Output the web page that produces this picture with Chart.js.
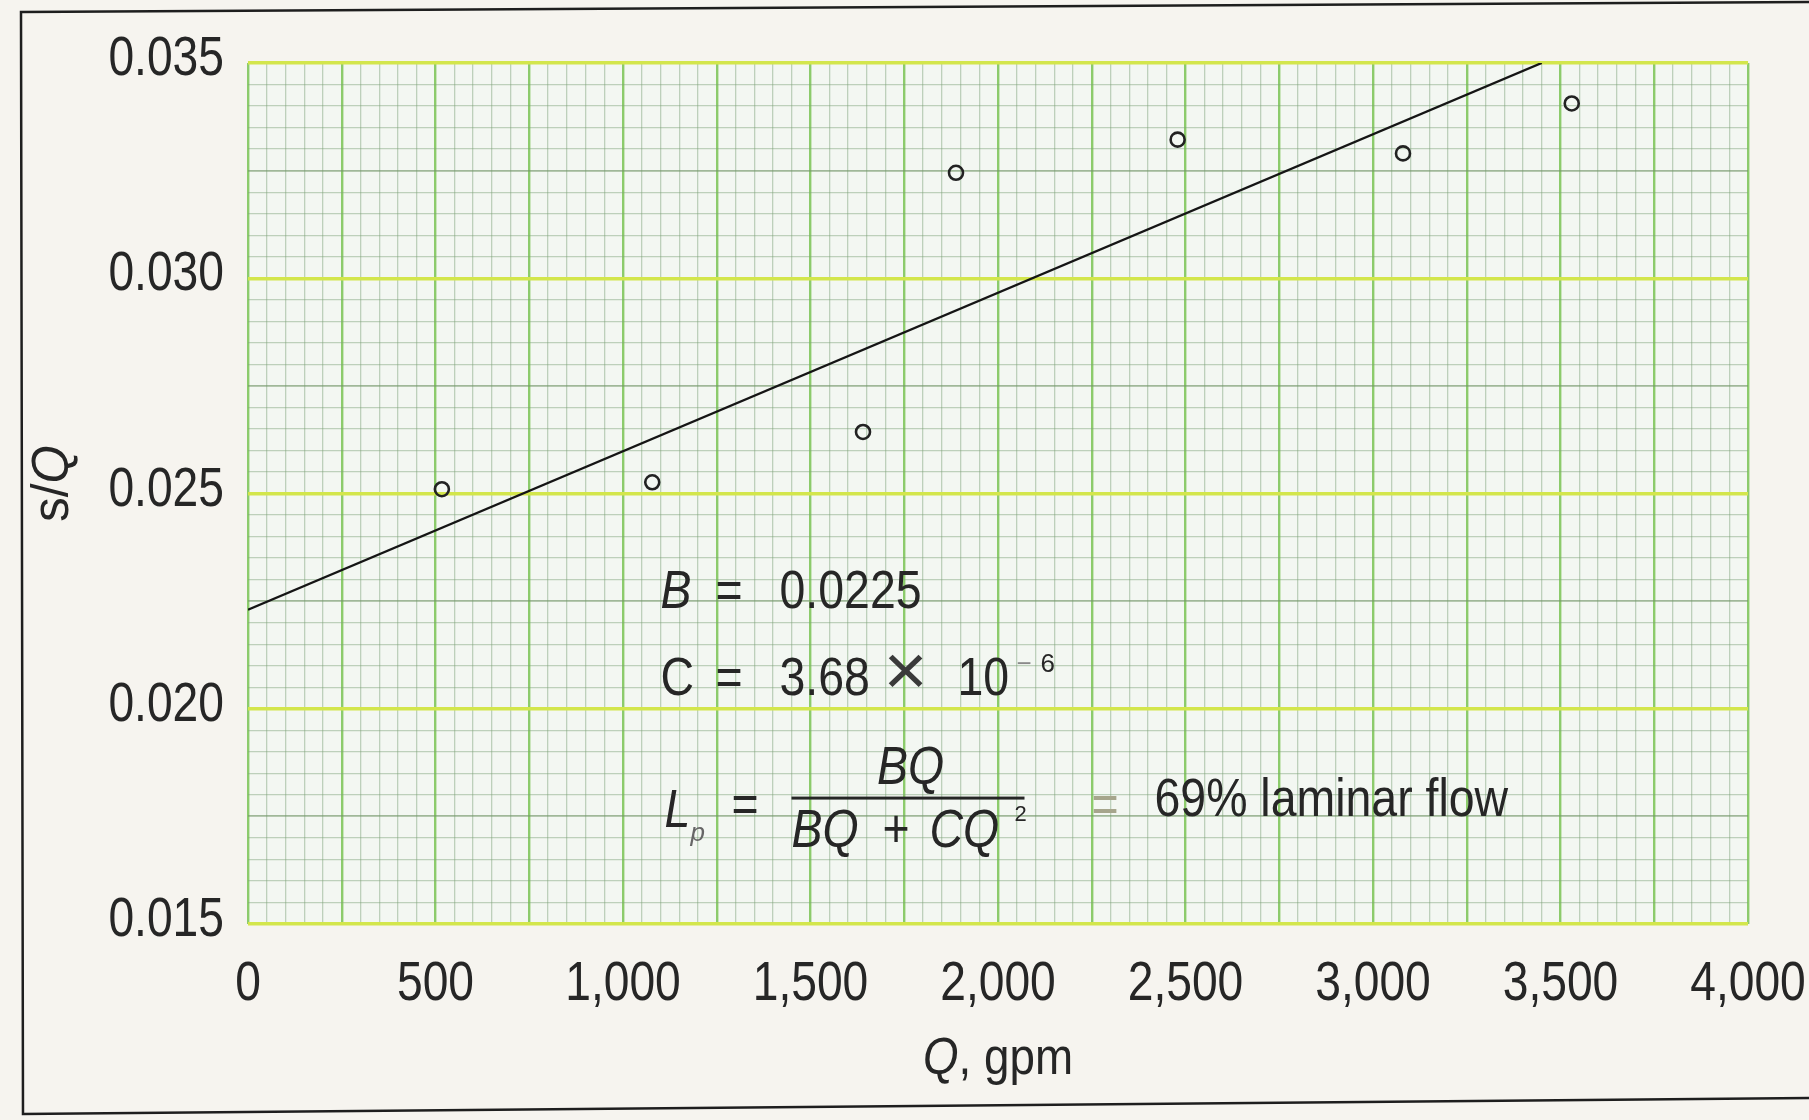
<!DOCTYPE html>
<html>
<head>
<meta charset="utf-8">
<title>s/Q vs Q</title>
<script src="https://cdn.jsdelivr.net/npm/chart.js@4.4.1/dist/chart.umd.min.js"></script>
<style>
    html, body { margin: 0; padding: 0; background: #f6f4ef; }
    #wrap { width: 1809px; height: 1120px; position: relative; }
</style>
</head>
<body>
<div id="wrap"><canvas id="stepChart" width="1809" height="1120"></canvas></div>
<script>
// step-drawdown data
const qValues = [517, 1078, 1640, 1888, 2479, 3080, 3530];
const sqValues = [0.0251, 0.02526, 0.02643, 0.03245, 0.03322, 0.0329, 0.03406];

// fitted straight line s/Q = B + CQ (end points as drawn)
const fitQ = [0, 3450];
const fitSQ = [0.0223, 0.0350];

// axis ranges / labelled ticks
const xTicks = [0, 500, 1000, 1500, 2000, 2500, 3000, 3500, 4000];
const yTicks = [0.015, 0.020, 0.025, 0.030, 0.035];

const FONT = "'Liberation Sans', Arial, Helvetica, sans-serif";
const INK = "#262626";

// text helper, sx squeezes the glyphs to mimic the condensed face of the print
function put(ctx, txt, x, y, size, italic, sx, align, color) {
    ctx.save();
    ctx.font = (italic ? "italic " : "") + size + "px " + FONT;
    ctx.fillStyle = color || INK;
    ctx.textAlign = align || "left";
    ctx.textBaseline = "alphabetic";
    ctx.translate(x, y);
    ctx.scale(sx, 1);
    ctx.fillText(txt, 0, 0);
    ctx.restore();
}
function textW(ctx, txt, size, italic, sx) {
    ctx.save();
    ctx.font = (italic ? "italic " : "") + size + "px " + FONT;
    const w = ctx.measureText(txt).width * sx;
    ctx.restore();
    return w;
}

// graph-paper background, frame, tick labels and annotations
const paperPlugin = {
    id: "paper",
    beforeDraw(chart) {
        const { ctx, chartArea: a } = chart;
        ctx.save();
        ctx.fillStyle = "#f3f7f2";
        ctx.fillRect(a.left, a.top, a.right - a.left, a.bottom - a.top);
        ctx.restore();
    },
    afterDraw(chart) {
        const { ctx, chartArea: a } = chart;
        const xs = chart.scales.x, ys = chart.scales.y;
        ctx.save();

        // page frame
        ctx.strokeStyle = "#1e1e1e";
        ctx.lineWidth = 2.5;
        ctx.beginPath();
        ctx.moveTo(1809, 2);
        ctx.lineTo(21, 12);
        ctx.lineTo(23, 1114);
        ctx.lineTo(1809, 1098);
        ctx.stroke();
        ctx.restore();

        // tick labels
        xTicks.forEach(v => {
            put(ctx, v.toLocaleString("en-US"), xs.getPixelForValue(v), a.bottom + 76, 55, false, 0.84, "center");
        });
        yTicks.forEach(v => {
            put(ctx, v.toFixed(3), a.left - 24, ys.getPixelForValue(v) + 12, 55, false, 0.84, "right");
        });

        // annotation block, anchored in data space
        const ax = xs.getPixelForValue(1100);
        const ay = ys.getPixelForValue(0.02235);
        const S = 54, K = 0.86;
        put(ctx, "B", ax, ay, S, true, K);
        put(ctx, "=", ax + 55, ay, S, false, K);
        put(ctx, "0.0225", ax + 119, ay, S, false, K);

        put(ctx, "C", ax, ay + 87, S, false, K);
        put(ctx, "=", ax + 55, ay + 87, S, false, K);
        put(ctx, "3.68", ax + 119, ay + 87, S, false, K);
        put(ctx, "\u00d7", ax + 245, ay + 87, 72, false, 1.05, "center", "#3a3a3a");
        put(ctx, "10", ax + 297, ay + 87, S, false, K);
        put(ctx, "\u2212", ax + 356, ay + 64, 26, false, 1, "left", "#8a8a8a");
        put(ctx, "6", ax + 380, ay + 64, 26, false, 1);

        put(ctx, "L", ax + 4, ay + 219, S, true, K);
        put(ctx, "p", ax + 30, ay + 233, 26, true, 1, "left", "#666");
        put(ctx, "=", ax + 71, ay + 214, S, false, K);
        put(ctx, "BQ", ax + 250, ay + 176, S, true, K, "center");
        ctx.fillStyle = INK;
        ctx.fillRect(ax + 131, ay + 189, 233, 3);
        put(ctx, "BQ", ax + 131, ay + 239, S, true, K);
        put(ctx, "+", ax + 222, ay + 239, S, false, K);
        put(ctx, "CQ", ax + 269, ay + 239, S, true, K);
        put(ctx, "2", ax + 354, ay + 213, 22, false, 1);
        put(ctx, "=", ax + 431, ay + 214, S, false, K, "left", "#a6a58c");
        put(ctx, "69% laminar flow", ax + 494, ay + 208, S, false, K);

        // axis titles
        const wq = textW(ctx, "Q", 52, true, 0.88);
        const wr = textW(ctx, ", gpm", 52, false, 0.88);
        const tx = (a.left + a.right) / 2 - (wq + wr) / 2;
        put(ctx, "Q", tx, a.bottom + 150, 52, true, 0.88);
        put(ctx, ", gpm", tx + wq, a.bottom + 150, 52, false, 0.88);

        ctx.save();
        ctx.translate(68, (a.top + a.bottom) / 2 - 10);
        ctx.rotate(-Math.PI / 2);
        const ws = textW(ctx, "s/", 52, false, 0.95);
        const wq2 = textW(ctx, "Q", 52, true, 0.95);
        put(ctx, "s/", -(ws + wq2) / 2, 0, 52, false, 0.95);
        put(ctx, "Q", -(ws + wq2) / 2 + ws, 0, 52, true, 0.95);
        ctx.restore();
    }
};

// grid colours, graph paper style
function xGridColor(c) {
    const v = Math.round(c.tick.value);
    if (v % 250 === 0) return "#8ccb6c";
    return "rgba(125,160,120,0.45)";
}
function xGridWidth(c) {
    const v = Math.round(c.tick.value);
    return v % 250 === 0 ? 2.4 : 1.3;
}
function yGridColor(c) {
    const k = Math.round(c.tick.value / 0.0005);
    if (k % 10 === 0) return "#d3e64c";
    if (k % 5 === 0) return "rgba(115,150,105,0.65)";
    return "rgba(125,160,120,0.45)";
}
function yGridWidth(c) {
    const k = Math.round(c.tick.value / 0.0005);
    if (k % 10 === 0) return 3.5;
    if (k % 5 === 0) return 1.8;
    return 1.3;
}

const ctx = document.getElementById("stepChart").getContext("2d");
const chart = new Chart(ctx, {
    type: "scatter",
    data: {
        datasets: [
            {
                label: "s/Q",
                data: qValues.map((q, i) => ({ x: q, y: sqValues[i] })),
                pointStyle: "circle",
                pointRadius: 7,
                borderWidth: 2.6,
                borderColor: "#222",
                backgroundColor: "rgba(0,0,0,0)"
            },
            {
                label: "fit",
                data: fitQ.map((q, i) => ({ x: q, y: fitSQ[i] })),
                showLine: true,
                borderColor: "#151515",
                borderWidth: 2.4,
                pointRadius: 0
            }
        ]
    },
    options: {
        responsive: false,
        animation: false,
        layout: { padding: { left: 128, right: 61, top: 63, bottom: 96 } },
        plugins: { legend: { display: false }, tooltip: { enabled: false } },
        scales: {
            x: {
                type: "linear",
                min: xTicks[0],
                max: xTicks[xTicks.length - 1],
                border: { display: false },
                grid: { color: xGridColor, lineWidth: xGridWidth, drawTicks: false },
                afterFit: s => { s.height = 100; },
                ticks: { stepSize: 50, autoSkip: false, display: false }
            },
            y: {
                type: "linear",
                min: yTicks[0],
                max: yTicks[yTicks.length - 1],
                border: { display: false },
                grid: { color: yGridColor, lineWidth: yGridWidth, drawTicks: false },
                afterFit: s => { s.width = 120; },
                ticks: { stepSize: 0.0005, autoSkip: false, display: false }
            }
        }
    },
    plugins: [paperPlugin]
});
</script>
</body>
</html>
